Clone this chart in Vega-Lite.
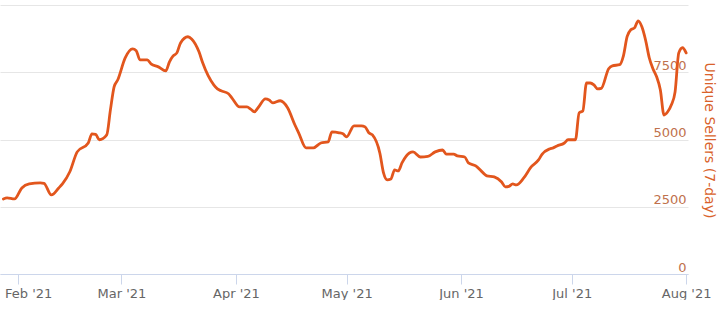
{
  "$schema": "https://vega.github.io/schema/vega-lite/v6.json",
  "width": 688,
  "height": 269,
  "padding": {"left": 0, "top": 5, "right": 6, "bottom": 0},
  "background": "white",
  "config": {"view": {"stroke": null}, "font": "DejaVu Sans"},
  "data": {"values": [
    {"date": "2021-01-28", "sellers": 2790},
    {"date": "2021-01-29", "sellers": 2830},
    {"date": "2021-01-31", "sellers": 2790},
    {"date": "2021-02-02", "sellers": 3200},
    {"date": "2021-02-04", "sellers": 3350},
    {"date": "2021-02-07", "sellers": 3390},
    {"date": "2021-02-08", "sellers": 3370},
    {"date": "2021-02-10", "sellers": 2940},
    {"date": "2021-02-12", "sellers": 3200},
    {"date": "2021-02-13", "sellers": 3350},
    {"date": "2021-02-15", "sellers": 3800},
    {"date": "2021-02-17", "sellers": 4540},
    {"date": "2021-02-20", "sellers": 4870},
    {"date": "2021-02-21", "sellers": 5210},
    {"date": "2021-02-22", "sellers": 5190},
    {"date": "2021-02-23", "sellers": 4990},
    {"date": "2021-02-25", "sellers": 5170},
    {"date": "2021-02-26", "sellers": 6100},
    {"date": "2021-02-27", "sellers": 6960},
    {"date": "2021-02-28", "sellers": 7220},
    {"date": "2021-03-02", "sellers": 8035},
    {"date": "2021-03-04", "sellers": 8370},
    {"date": "2021-03-05", "sellers": 8300},
    {"date": "2021-03-06", "sellers": 7960},
    {"date": "2021-03-08", "sellers": 7960},
    {"date": "2021-03-09", "sellers": 7810},
    {"date": "2021-03-11", "sellers": 7700},
    {"date": "2021-03-13", "sellers": 7550},
    {"date": "2021-03-14", "sellers": 7890},
    {"date": "2021-03-15", "sellers": 8110},
    {"date": "2021-03-16", "sellers": 8220},
    {"date": "2021-03-17", "sellers": 8590},
    {"date": "2021-03-19", "sellers": 8820},
    {"date": "2021-03-20", "sellers": 8740},
    {"date": "2021-03-22", "sellers": 8260},
    {"date": "2021-03-23", "sellers": 7850},
    {"date": "2021-03-26", "sellers": 7030},
    {"date": "2021-03-27", "sellers": 6880},
    {"date": "2021-03-28", "sellers": 6810},
    {"date": "2021-03-30", "sellers": 6700},
    {"date": "2021-03-31", "sellers": 6530},
    {"date": "2021-04-02", "sellers": 6210},
    {"date": "2021-04-04", "sellers": 6210},
    {"date": "2021-04-05", "sellers": 6130},
    {"date": "2021-04-06", "sellers": 6030},
    {"date": "2021-04-07", "sellers": 6180},
    {"date": "2021-04-09", "sellers": 6510},
    {"date": "2021-04-10", "sellers": 6470},
    {"date": "2021-04-11", "sellers": 6360},
    {"date": "2021-04-13", "sellers": 6440},
    {"date": "2021-04-15", "sellers": 6180},
    {"date": "2021-04-17", "sellers": 5540},
    {"date": "2021-04-18", "sellers": 5250},
    {"date": "2021-04-20", "sellers": 4690},
    {"date": "2021-04-22", "sellers": 4690},
    {"date": "2021-04-24", "sellers": 4870},
    {"date": "2021-04-26", "sellers": 4910},
    {"date": "2021-04-27", "sellers": 5280},
    {"date": "2021-04-29", "sellers": 5250},
    {"date": "2021-04-30", "sellers": 5210},
    {"date": "2021-05-01", "sellers": 5100},
    {"date": "2021-05-03", "sellers": 5510},
    {"date": "2021-05-05", "sellers": 5510},
    {"date": "2021-05-06", "sellers": 5470},
    {"date": "2021-05-07", "sellers": 5250},
    {"date": "2021-05-08", "sellers": 5170},
    {"date": "2021-05-10", "sellers": 4500},
    {"date": "2021-05-11", "sellers": 3760},
    {"date": "2021-05-12", "sellers": 3500},
    {"date": "2021-05-13", "sellers": 3530},
    {"date": "2021-05-14", "sellers": 3870},
    {"date": "2021-05-15", "sellers": 3830},
    {"date": "2021-05-16", "sellers": 4130},
    {"date": "2021-05-18", "sellers": 4500},
    {"date": "2021-05-19", "sellers": 4540},
    {"date": "2021-05-21", "sellers": 4350},
    {"date": "2021-05-23", "sellers": 4370},
    {"date": "2021-05-25", "sellers": 4540},
    {"date": "2021-05-27", "sellers": 4610},
    {"date": "2021-05-28", "sellers": 4460},
    {"date": "2021-05-30", "sellers": 4460},
    {"date": "2021-05-31", "sellers": 4390},
    {"date": "2021-06-02", "sellers": 4350},
    {"date": "2021-06-03", "sellers": 4130},
    {"date": "2021-06-05", "sellers": 4020},
    {"date": "2021-06-07", "sellers": 3760},
    {"date": "2021-06-08", "sellers": 3650},
    {"date": "2021-06-10", "sellers": 3610},
    {"date": "2021-06-12", "sellers": 3420},
    {"date": "2021-06-13", "sellers": 3240},
    {"date": "2021-06-14", "sellers": 3260},
    {"date": "2021-06-15", "sellers": 3350},
    {"date": "2021-06-16", "sellers": 3310},
    {"date": "2021-06-18", "sellers": 3570},
    {"date": "2021-06-20", "sellers": 3980},
    {"date": "2021-06-22", "sellers": 4240},
    {"date": "2021-06-23", "sellers": 4460},
    {"date": "2021-06-25", "sellers": 4650},
    {"date": "2021-06-26", "sellers": 4690},
    {"date": "2021-06-27", "sellers": 4760},
    {"date": "2021-06-29", "sellers": 4870},
    {"date": "2021-06-30", "sellers": 4990},
    {"date": "2021-07-01", "sellers": 4990},
    {"date": "2021-07-02", "sellers": 4990},
    {"date": "2021-07-03", "sellers": 5990},
    {"date": "2021-07-04", "sellers": 6060},
    {"date": "2021-07-05", "sellers": 7100},
    {"date": "2021-07-06", "sellers": 7100},
    {"date": "2021-07-07", "sellers": 7030},
    {"date": "2021-07-08", "sellers": 6880},
    {"date": "2021-07-09", "sellers": 6900},
    {"date": "2021-07-11", "sellers": 7630},
    {"date": "2021-07-12", "sellers": 7740},
    {"date": "2021-07-14", "sellers": 7780},
    {"date": "2021-07-15", "sellers": 8110},
    {"date": "2021-07-16", "sellers": 8820},
    {"date": "2021-07-17", "sellers": 9080},
    {"date": "2021-07-18", "sellers": 9150},
    {"date": "2021-07-19", "sellers": 9410},
    {"date": "2021-07-20", "sellers": 9190},
    {"date": "2021-07-21", "sellers": 8700},
    {"date": "2021-07-22", "sellers": 8040},
    {"date": "2021-07-23", "sellers": 7630},
    {"date": "2021-07-24", "sellers": 7330},
    {"date": "2021-07-25", "sellers": 6850},
    {"date": "2021-07-26", "sellers": 5910},
    {"date": "2021-07-27", "sellers": 6030},
    {"date": "2021-07-28", "sellers": 6290},
    {"date": "2021-07-29", "sellers": 6770},
    {"date": "2021-07-30", "sellers": 8220},
    {"date": "2021-07-31", "sellers": 8410},
    {"date": "2021-08-01", "sellers": 8220}
  ]},
  "mark": {"type": "line", "interpolate": "monotone", "color": "#e2561d", "strokeWidth": 2.8, "strokeJoin": "round", "strokeCap": "round"},
  "encoding": {
    "x": {
      "field": "date",
      "type": "temporal",
      "scale": {
        "type": "utc",
        "domain": [
          {"year": 2021, "month": 1, "date": 27, "hours": 2, "utc": true},
          {"year": 2021, "month": 8, "date": 1, "hours": 12, "utc": true}
        ]
      },
      "axis": {
        "title": null,
        "grid": false,
        "values": [
          {"year": 2021, "month": 2, "date": 1, "utc": true},
          {"year": 2021, "month": 3, "date": 1, "utc": true},
          {"year": 2021, "month": 4, "date": 1, "utc": true},
          {"year": 2021, "month": 5, "date": 1, "utc": true},
          {"year": 2021, "month": 6, "date": 1, "utc": true},
          {"year": 2021, "month": 7, "date": 1, "utc": true},
          {"year": 2021, "month": 8, "date": 1, "utc": true}
        ],
        "labelExpr": "utcFormat(datum.value, \"%b '%y\")",
        "labelOffset": {"condition": {"test": "utcmonth(datum.value) == 1", "value": 10}, "value": 0},
        "domainColor": "#ccd6eb",
        "tickColor": "#ccd6eb",
        "tickSize": 10,
        "labelPadding": 3,
        "labelFontSize": 13,
        "labelColor": "#666666",
        "labelFlush": false,
        "labelOverlap": false
      }
    },
    "y": {
      "field": "sellers",
      "type": "quantitative",
      "scale": {"domain": [0, 10000], "nice": false},
      "axis": {
        "orient": "right",
        "title": "Unique Sellers (7-day)",
        "titleColor": "#d9622b",
        "titleFontSize": 14,
        "titleFontWeight": "normal",
        "titleAngle": 90,
        "titleX": 20,
        "titleY": 135,
        "titleAlign": "center",
        "titleBaseline": "middle",
        "values": [0, 2500, 5000, 7500, 10000],
        "labelExpr": "datum.value >= 10000 ? '' : datum.label",
        "format": "d",
        "grid": true,
        "gridColor": "#e6e6e6",
        "domain": false,
        "ticks": false,
        "tickSize": 0,
        "labelAlign": "right",
        "labelPadding": -2,
        "labelBaseline": "alphabetic",
        "labelOffset": -3,
        "labelFontSize": 13,
        "labelColor": "#c0714c"
      }
    }
  }
}
